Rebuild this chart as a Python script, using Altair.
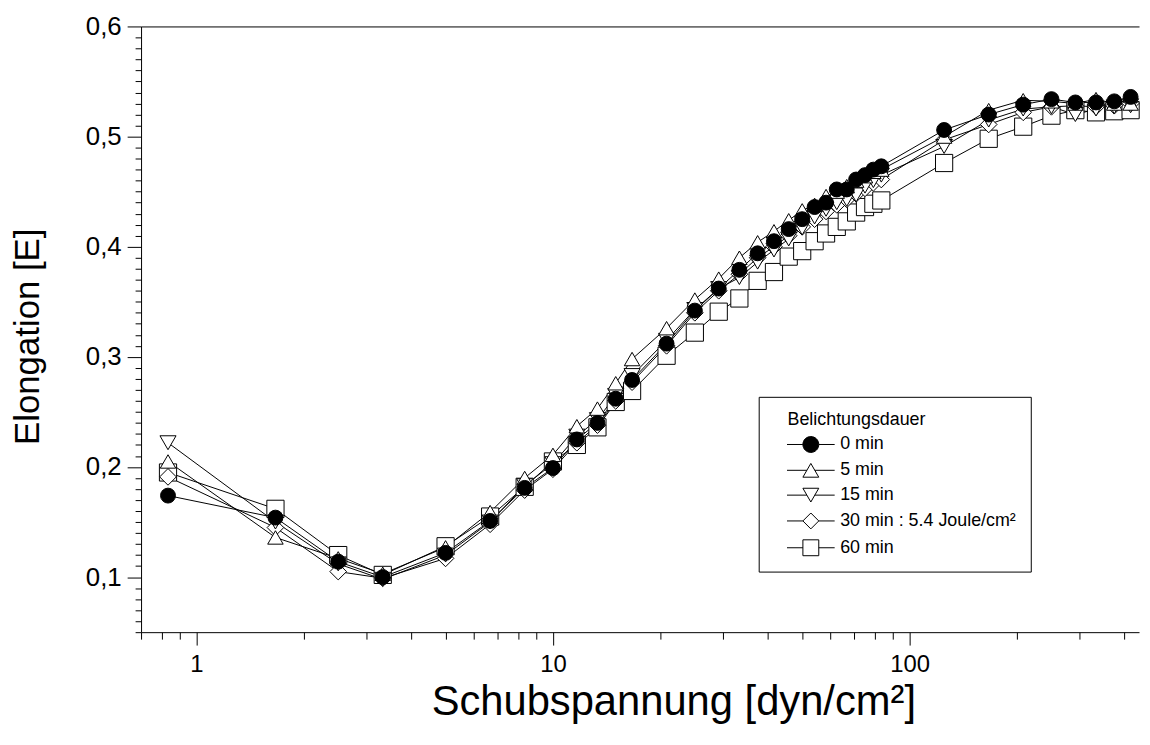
import altair as alt
import pandas as pd

# Shear stress values (x) shared by all series
x_vals = [0.833, 1.667, 2.5, 3.333, 5.0, 6.667, 8.333, 10.0, 11.67, 13.33, 15.0, 16.67,
          20.83, 25.0, 29.17, 33.33, 37.5, 41.67, 45.83, 50.0, 54.17, 58.33, 62.5, 66.67,
          70.83, 75.0, 79.17, 83.33, 125.0, 166.7, 208.3, 250.0, 291.7, 333.3, 375.0, 416.7]

s_0min = [0.174, 0.154, 0.114, 0.100, 0.122, 0.151, 0.181, 0.199, 0.225, 0.240, 0.262, 0.279,
          0.312, 0.342, 0.362, 0.379, 0.394, 0.405, 0.416, 0.425, 0.436, 0.440, 0.452, 0.452,
          0.461, 0.465, 0.470, 0.473, 0.506, 0.520, 0.529, 0.534, 0.531, 0.531, 0.532, 0.536]
s_5min = [0.205, 0.136, 0.117, 0.103, 0.127, 0.159, 0.190, 0.211, 0.237, 0.253, 0.276, 0.298,
          0.326, 0.352, 0.371, 0.390, 0.404, 0.414, 0.424, 0.433, 0.438, 0.446, 0.450, 0.455,
          0.460, 0.464, 0.468, 0.470, 0.500, 0.524, 0.533, 0.532, 0.530, 0.534, 0.530, 0.530]
s_15min = [0.222, 0.150, 0.112, 0.098, 0.120, 0.150, 0.183, 0.203, 0.228, 0.243, 0.265, 0.283,
           0.315, 0.343, 0.362, 0.372, 0.386, 0.397, 0.407, 0.417, 0.427, 0.434, 0.440, 0.443,
           0.447, 0.455, 0.460, 0.465, 0.491, 0.515, 0.525, 0.527, 0.520, 0.525, 0.527, 0.528]
s_30min = [0.191, 0.145, 0.105, 0.099, 0.117, 0.148, 0.179, 0.198, 0.222, 0.238, 0.260, 0.277,
           0.310, 0.340, 0.360, 0.375, 0.390, 0.400, 0.410, 0.418, 0.425, 0.432, 0.438, 0.443,
           0.448, 0.453, 0.458, 0.461, 0.497, 0.511, 0.522, 0.527, 0.528, 0.527, 0.528, 0.530]
s_60min = [0.195, 0.162, 0.120, 0.102, 0.128, 0.155, 0.182, 0.205, 0.220, 0.236, 0.259, 0.269,
           0.301, 0.322, 0.341, 0.353, 0.369, 0.377, 0.391, 0.396, 0.405, 0.412, 0.418, 0.423,
           0.431, 0.436, 0.439, 0.442, 0.476, 0.498, 0.509, 0.519, 0.524, 0.522, 0.523, 0.524]

labels = ["0 min", "5 min", "15 min", "30 min : 5.4 Joule/cm²", "60 min"]
series = [s_0min, s_5min, s_15min, s_30min, s_60min]
shapes = ["circle", "triangle-up", "triangle-down", "diamond", "square"]
fills = ["black", "white", "white", "white", "white"]
strokes = ["black", "black", "black", "black", "black"]
sizes = [225, 300, 300, 270, 196]

# legend symbols: marker with a short line on each side
legend_paths = [
    "M-3,0H-1M1,0H3M1,0A1,1,0,1,1,-1,0A1,1,0,1,1,1,0Z",
    "M-3,0H-0.5M0.5,0H3M0,-0.866L1,0.866L-1,0.866Z",
    "M-3,0H-0.5M0.5,0H3M0,0.866L1,-0.866L-1,-0.866Z",
    "M-3,0H-1M1,0H3M0,-1L1,0L0,1L-1,0Z",
    "M-3,0H-1M1,0H3M-1,-1H1V1H-1Z",
]

x_ticks = [0.7, 0.8, 0.9, 1, 2, 3, 4, 5, 6, 7, 8, 9, 10, 20, 30, 40, 50, 60, 70, 80, 90,
           100, 200, 300, 400]
y_ticks = [round(0.05 + 0.01 * i, 2) for i in range(56)]

rows = []
for k, (lab, ys) in enumerate(zip(labels, series)):
    for xv, yv in zip(x_vals, ys):
        rows.append({"series": lab, "x": xv, "y": yv, "k": k})
df = pd.DataFrame(rows).sort_values("k", ascending=False, kind="stable")

FONT = "Liberation Sans, Arial, sans-serif"

x_major = "datum.value == 1 || datum.value == 10 || datum.value == 100"
y_major = "abs(datum.value * 10 - round(datum.value * 10)) < 0.001"

x_scale = alt.Scale(type="log", domain=[0.7, 440], nice=False)

x_enc = alt.X("x:Q", scale=x_scale,
              axis=alt.Axis(values=x_ticks, title="Schubspannung [dyn/cm²]",
                            labelExpr="datum.value == 1 ? '1' : datum.value == 10 ? '10' : datum.value == 100 ? '100' : ''",
                            tickSize={"condition": {"test": x_major, "value": 13}, "value": 7},
                            grid=False, labelOverlap=False, labelFlush=False,
                            labelFont=FONT, labelFontSize=24, labelColor="black",
                            labelPadding=8,
                            tickColor="black", domainColor="black", tickWidth=1, domainWidth=1,
                            titleFont=FONT, titleFontSize=42, titleFontWeight="normal",
                            titleColor="black", titleX=536, titleY=83,
                            titleBaseline="alphabetic", titleAnchor="middle"))
x_plain = alt.X("x:Q", scale=x_scale, axis=None)
# top frame line: an axis on top with no ticks or labels
x_top = alt.X("x:Q", scale=x_scale,
              axis=alt.Axis(orient="top", ticks=False, labels=False, title=None, grid=False,
                            domainColor="black", domainWidth=1))
y_enc = alt.Y("y:Q",
              scale=alt.Scale(domain=[0.05, 0.6], nice=False, zero=False),
              axis=alt.Axis(values=y_ticks, title="Elongation [E]",
                            labelExpr=f"{y_major} ? replace(format(datum.value, '.1f'), '.', ',') : ''",
                            tickSize={"condition": {"test": y_major, "value": 14}, "value": 6},
                            grid=False, labelOverlap=False, labelFlush=False,
                            labelFont=FONT, labelFontSize=26, labelColor="black",
                            labelPadding=6,
                            tickColor="black", domainColor="black", tickWidth=1, domainWidth=1,
                            titleFont=FONT, titleFontSize=35, titleFontWeight="normal",
                            titleColor="black", titleX=-103, titleY=312, titleAngle=270,
                            titleBaseline="alphabetic", titleAlign="center"))

base = alt.Chart(df)

lines = base.mark_line(color="black", strokeWidth=1).encode(
    x=x_enc, y=y_enc, detail="series:N", order="x:Q")

points = base.mark_point(filled=True, stroke="black", strokeWidth=1, opacity=1).encode(
    x=x_plain, y=y_enc,
    shape=alt.Shape("series:N", scale=alt.Scale(domain=labels, range=shapes), legend=None),
    fill=alt.Fill("series:N", scale=alt.Scale(domain=labels, range=fills), legend=None),
    size=alt.Size("series:N", scale=alt.Scale(domain=labels, range=sizes), legend=None),
)

legend = alt.Legend(
    title="\u200c\u00a0\u00a0\u00a0Belichtungsdauer", orient="none", legendX=622, legendY=373,
    padding=14, strokeColor="black", fillColor="white",
    titleFont=FONT, titleFontSize=18, titleFontWeight="normal", titleColor="black",
    titlePadding=7, titleLimit=400,
    labelFont=FONT, labelFontSize=18, labelColor="black", labelLimit=400,
    symbolSize=256, symbolOffset=29.5, labelOffset=20.5, rowPadding=7,
    symbolStrokeColor="black", symbolStrokeWidth=1, symbolOpacity=1,
)

legend_layer = base.transform_filter("false").mark_point(
    filled=True, strokeWidth=1, opacity=1, size=256).encode(
    x=x_top, y=y_enc,
    shape=alt.Shape("series:N", scale=alt.Scale(domain=labels, range=legend_paths), legend=legend),
    fill=alt.Fill("series:N", scale=alt.Scale(domain=labels, range=fills), legend=legend),
    stroke=alt.Stroke("series:N", scale=alt.Scale(domain=labels, range=strokes), legend=legend),
)

chart = alt.layer(lines, points, legend_layer).resolve_scale(
    shape="independent", fill="independent", size="independent", stroke="independent"
).resolve_axis(x="independent").properties(
    width=1005, height=610,
    autosize=alt.AutoSizeParams(type="none"),
    padding={"left": 134, "top": 16, "right": 3, "bottom": 103},
    background="white",
).configure_view(stroke=None)

chart.save("out.html", embed_options={"renderer": "svg", "actions": False})
